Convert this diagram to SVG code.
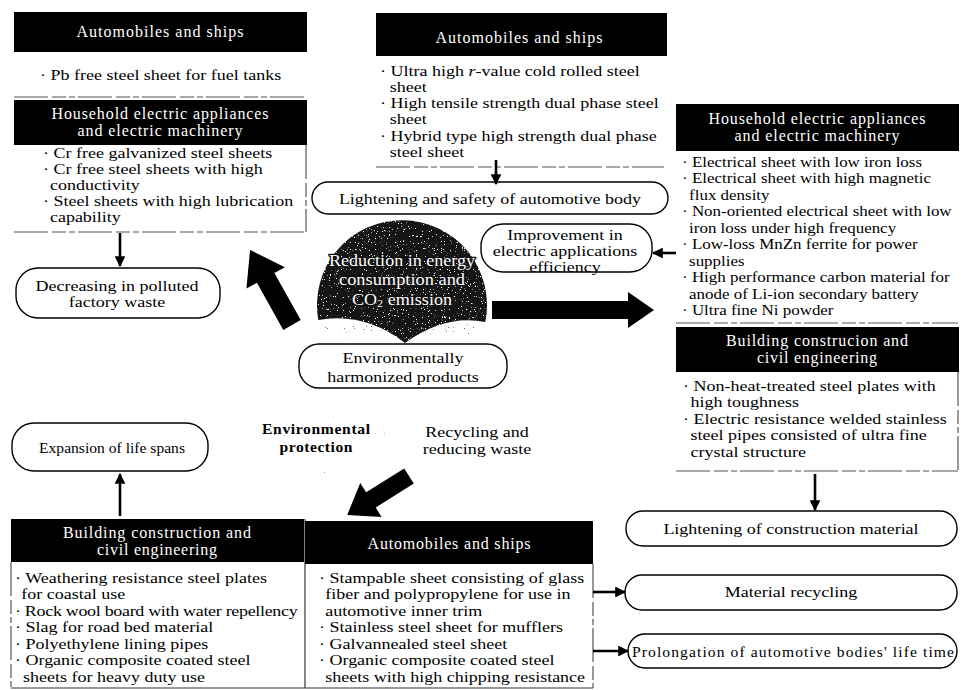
<svg xmlns="http://www.w3.org/2000/svg" width="962" height="690" viewBox="0 0 962 690">
<defs>
<style>
.t{font-family:"Liberation Serif","Times New Roman",serif;font-size:15.6px;fill:#000}
.h{font-family:"Liberation Serif","Times New Roman",serif;font-size:16px;fill:#fff;text-anchor:middle}
.c{text-anchor:middle}
.b{font-weight:bold}
.hdr{fill:#000}
.pill{fill:#fff;stroke:#000;stroke-width:1.4}
.dash{stroke:#555;stroke-width:1.2;fill:none;stroke-dasharray:34 4 14 3 6 3}
.solid{stroke:#333;stroke-width:1.2;fill:none}
.arr{stroke:#000;stroke-width:2.6;fill:none;marker-end:url(#ah)}
.big{fill:#000}
.sph{fill:#fff;font-family:"Liberation Serif","Times New Roman",serif;font-size:16.5px;text-anchor:middle;stroke:#111;stroke-width:2.4;paint-order:stroke}
</style>
<marker id="ah" viewBox="0 0 10 10" refX="9" refY="5" markerWidth="4.2" markerHeight="4.2" orient="auto">
<path d="M0,0 L10,5 L0,10 z" fill="#000"/>
</marker>
<filter id="spkB" x="0" y="0" width="100%" height="100%" color-interpolation-filters="sRGB">
<feTurbulence type="fractalNoise" baseFrequency="0.9" numOctaves="1" seed="5" result="n"/>
<feColorMatrix in="n" type="matrix" values="0 0 0 0 0.45 0 0 0 0 0.45 0 0 0 0 0.45 20 0 0 0 -15.6" result="d"/>
<feComposite in="d" in2="SourceAlpha" operator="in"/>
</filter>
<filter id="spkL" x="0" y="0" width="100%" height="100%" color-interpolation-filters="sRGB">
<feTurbulence type="fractalNoise" baseFrequency="0.95" numOctaves="1" seed="11" result="n"/>
<feColorMatrix in="n" type="matrix" values="0 0 0 0 0.4 0 0 0 0 0.4 0 0 0 0 0.4 20 0 0 0 -14.6" result="d"/>
<feComposite in="d" in2="SourceAlpha" operator="in"/>
</filter>
<filter id="spkW" x="0" y="0" width="100%" height="100%" color-interpolation-filters="sRGB">
<feTurbulence type="fractalNoise" baseFrequency="0.85" numOctaves="2" seed="3" result="n"/>
<feColorMatrix in="n" type="matrix" values="0 0 0 0 1 0 0 0 0 1 0 0 0 0 1 16 0 0 0 -10.8" result="d"/>
<feComposite in="d" in2="SourceAlpha" operator="in"/>
</filter>
</defs>
<rect width="962" height="690" fill="#fff"/>

<g id="stipple">
<ellipse cx="318" cy="438" rx="68" ry="48" fill="#000" filter="url(#spkB)"/>
<path d="M318.3,320 Q365,312 405,343 Q445,314 485.3,322 A85,85 0 0 1 318.3,320 Z" fill="#000" filter="url(#spkL)"/>
</g>

<g id="n-center">
<path d="M318.3,320 A85,85 0 1 1 485.3,322 Q445,314 405,343 Q365,312 318.3,320 Z" fill="#151515"/>
<path d="M318.3,320 A85,85 0 1 1 485.3,322 Q445,314 405,343 Q365,312 318.3,320 Z" fill="#000" filter="url(#spkW)"/>
<text class="sph" x="402" y="266" textLength="146" lengthAdjust="spacingAndGlyphs">Reduction in energy</text>
<text class="sph" x="402" y="285" textLength="126" lengthAdjust="spacingAndGlyphs">consumption and</text>
<text class="sph" x="402" y="305" textLength="100" lengthAdjust="spacingAndGlyphs">CO<tspan font-size="11" dy="2">2</tspan><tspan dy="-2"> emission</tspan></text>
</g>

<g id="n-env-products">
<rect class="pill" x="299" y="344" width="208" height="44" rx="20"/>
<g transform="matrix(1.154,0,0,1,-62.06,0)">
<text class="t c" x="403" y="363">Environmentally</text>
<text class="t c" x="403" y="382">harmonized products</text>
</g>
</g>

<g id="n-env-protection">
<text class="t c b" x="316" y="434" textLength="108">Environmental</text>
<text class="t c b" x="316" y="452" textLength="73">protection</text>
</g>

<g id="n-recycling">
<g transform="matrix(1.154,0,0,1,-73.46,0)">
<text class="t c" x="477" y="437">Recycling and</text>
<text class="t c" x="477" y="454">reducing waste</text>
</g>
</g>

<g id="n-tl-auto">
<rect class="hdr" x="14" y="12" width="293" height="40"/>
<text class="h" x="160" y="37" textLength="167">Automobiles and ships</text>
<text class="t" x="40" y="80" transform="matrix(1.154,0,0,1,-6.16,0)">· Pb free steel sheet for fuel tanks</text>
<line class="dash" x1="14" y1="97" x2="307" y2="97"/>
</g>

<g id="n-tl-house">
<rect class="hdr" x="14" y="100" width="293" height="45"/>
<text class="h" x="160" y="119" textLength="217">Household electric appliances</text>
<text class="h" x="160" y="136" textLength="165">and electric machinery</text>
<g transform="matrix(1.154,0,0,1,-6.62,0)">
<text class="t" x="43" y="158">· Cr free galvanized steel sheets</text>
<text class="t" x="43" y="174">· Cr free steel sheets with high</text>
<text class="t" x="49" y="190">conductivity</text>
<text class="t" x="43" y="206">· Steel sheets with high lubrication</text>
<text class="t" x="49" y="222">capability</text>
</g>
<line class="dash" x1="14" y1="232" x2="307" y2="232"/>
<line class="dash" x1="306" y1="145" x2="306" y2="232"/>
</g>

<g id="n-decreasing">
<rect class="pill" x="16" y="268" width="204" height="50" rx="22"/>
<g transform="matrix(1.154,0,0,1,-18.02,0)">
<text class="t c" x="117" y="291">Decreasing in polluted</text>
<text class="t c" x="117" y="307">factory waste</text>
</g>
</g>

<g id="n-tm-auto">
<rect class="hdr" x="376" y="13" width="291" height="43"/>
<text class="h" x="519" y="43" textLength="167">Automobiles and ships</text>
<g transform="matrix(1.154,0,0,1,-58.52,0)">
<text class="t" x="380" y="76">· Ultra high <tspan font-style="italic">r</tspan>-value cold rolled steel</text>
<text class="t" x="388.5" y="92">sheet</text>
<text class="t" x="380" y="108.5">· High tensile strength dual phase steel</text>
<text class="t" x="388.5" y="124.5">sheet</text>
<text class="t" x="380" y="141">· Hybrid type high strength dual phase</text>
<text class="t" x="388.5" y="157">steel sheet</text>
</g>
<line class="dash" x1="376" y1="167" x2="664" y2="167"/>
</g>

<g id="n-lightening-body">
<rect class="pill" x="312" y="182" width="356" height="32" rx="16"/>
<text class="t c" x="490" y="204" transform="matrix(1.154,0,0,1,-75.46,0)">Lightening and safety of automotive body</text>
</g>

<g id="n-improvement">
<rect class="pill" x="481" y="224" width="171" height="48" rx="22"/>
<g transform="matrix(1.154,0,0,1,-87.01,0)">
<text class="t c" x="565" y="240">Improvement in</text>
<text class="t c" x="565" y="256">electric applications</text>
<text class="t c" x="565" y="272">efficiency</text>
</g>
</g>

<g id="n-r-house">
<rect class="hdr" x="676" y="104" width="283" height="47"/>
<text class="h" x="817" y="124" textLength="217">Household electric appliances</text>
<text class="h" x="817" y="141" textLength="165">and electric machinery</text>
<g transform="matrix(1.087,0,0,1,-59.33,0)">
<text class="t" x="682" y="167">· Electrical sheet with low iron loss</text>
<text class="t" x="682" y="183.5">· Electrical sheet with high magnetic</text>
<text class="t" x="688.5" y="200">flux density</text>
<text class="t" x="682" y="216.5">· Non-oriented electrical sheet with low</text>
<text class="t" x="688.5" y="233">iron loss under high frequency</text>
<text class="t" x="682" y="249.5">· Low-loss MnZn ferrite for power</text>
<text class="t" x="688.5" y="266">supplies</text>
<text class="t" x="682" y="282.5">· High performance carbon material for</text>
<text class="t" x="688.5" y="299">anode of Li-ion secondary battery</text>
<text class="t" x="682" y="315.5">· Ultra fine Ni powder</text>
</g>
<line class="dash" x1="676" y1="323" x2="958" y2="323"/>
</g>

<g id="n-r-build">
<rect class="hdr" x="676" y="327" width="283" height="45"/>
<text class="h" x="817" y="346" textLength="182">Building construcion and</text>
<text class="h" x="817" y="363" textLength="120">civil engineering</text>
<g transform="matrix(1.154,0,0,1,-105.18,0)">
<text class="t" x="683" y="391">· Non-heat-treated steel plates with</text>
<text class="t" x="689.5" y="407.5">high toughness</text>
<text class="t" x="683" y="424">· Electric resistance welded stainless</text>
<text class="t" x="689.5" y="440.5">steel pipes consisted of ultra fine</text>
<text class="t" x="689.5" y="457">crystal structure</text>
</g>
<line class="dash" x1="676" y1="471" x2="958" y2="471"/>
<line class="dash" x1="958" y1="372" x2="958" y2="471"/>
</g>

<g id="n-lightening-construction">
<rect class="pill" x="626" y="511" width="331" height="35" rx="17"/>
<text class="t c" x="791" y="534" transform="matrix(1.154,0,0,1,-121.81,0)">Lightening of construction material</text>
</g>

<g id="n-expansion">
<rect class="pill" x="12" y="423" width="196" height="48" rx="22"/>
<text class="t c" x="112" y="453">Expansion of life spans</text>
</g>

<g id="n-bl-build">
<rect class="hdr" x="11" y="519" width="293" height="43"/>
<text class="h" x="157" y="538" textLength="188">Building construction and</text>
<text class="h" x="157" y="555" textLength="120">civil engineering</text>
<g transform="matrix(1.154,0,0,1,-2.31,0)">
<text class="t" x="15" y="583">· Weathering resistance steel plates</text>
<text class="t" x="20.5" y="599.5">for coastal use</text>
<text class="t" x="15" y="616" textLength="245">· Rock wool board with water repellency</text>
<text class="t" x="15" y="632.5">· Slag for road bed material</text>
<text class="t" x="15" y="649">· Polyethylene lining pipes</text>
<text class="t" x="15" y="665.5">· Organic composite coated steel</text>
<text class="t" x="22" y="682">sheets for heavy duty use</text>
</g>
<line class="dash" x1="11" y1="562" x2="11" y2="688"/>
<line class="solid" x1="11" y1="688" x2="305" y2="688"/>
<line class="solid" x1="305" y1="519" x2="305" y2="688"/>
</g>

<g id="n-bm-auto">
<rect class="hdr" x="305" y="521" width="288" height="43"/>
<text class="h" x="449" y="549" textLength="163">Automobiles and ships</text>
<g transform="matrix(1.154,0,0,1,-49.13,0)">
<text class="t" x="319" y="583">· Stampable sheet consisting of glass</text>
<text class="t" x="324.5" y="599.5">fiber and polypropylene for use in</text>
<text class="t" x="324.5" y="616">automotive inner trim</text>
<text class="t" x="319" y="632.5">· Stainless steel sheet for mufflers</text>
<text class="t" x="319" y="649">· Galvannealed steel sheet</text>
<text class="t" x="319" y="665.5">· Organic composite coated steel</text>
<text class="t" x="324.5" y="682">sheets with high chipping resistance</text>
</g>
<line class="solid" x1="305" y1="688" x2="593" y2="688"/>
<line class="dash" x1="593" y1="564" x2="593" y2="688"/>
</g>

<g id="n-material-recycling">
<rect class="pill" x="625" y="575" width="332" height="35" rx="17"/>
<text class="t c" x="791" y="597" transform="matrix(1.154,0,0,1,-121.81,0)">Material recycling</text>
</g>

<g id="n-prolongation">
<rect class="pill" x="628" y="634" width="329" height="34" rx="17"/>
<text class="t c" x="793" y="657" textLength="322">Prolongation of automotive bodies' life time</text>
</g>

<g id="connectors">
<line class="arr" x1="120" y1="233" x2="120" y2="266"/>
<line class="arr" x1="496" y1="160" x2="496" y2="184"/>
<line class="arr" x1="676" y1="253" x2="653" y2="253"/>
<line class="arr" x1="815" y1="474" x2="815" y2="510"/>
<line class="arr" x1="120" y1="516" x2="120" y2="474"/>
<line class="arr" x1="593" y1="592" x2="625" y2="592"/>
<line class="arr" x1="593" y1="651" x2="628" y2="651"/>
<polygon class="big" points="0,-10 54,-10 54,-22 86,0 54,22 54,10 0,10" transform="translate(292,325) rotate(-119.2)"/>
<polygon class="big" points="492,301 628,301 628,292 654,310 628,328 628,319 492,319"/>
<polygon class="big" points="0,-9 45,-9 45,-20 73,0 45,20 45,9 0,9" transform="translate(409,476) rotate(147.8)"/>
</g>
</svg>
